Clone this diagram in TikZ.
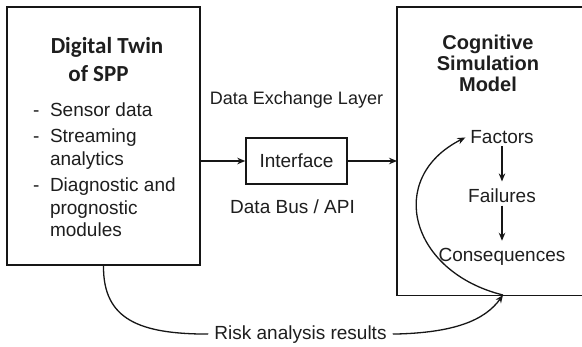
\documentclass[tikz,border=0pt]{standalone}
\usepackage{fontspec}
\setmainfont{Liberation Sans}
\newfontfamily\calfont{Carlito}
\usetikzlibrary{arrows.meta,positioning}
\definecolor{ink}{HTML}{161616}
\definecolor{textgray}{HTML}{1E1E1E}
\tikzset{
  panel/.style={draw=ink, line width=1.7pt, fill=white, inner sep=0pt},
  frame/.style={draw=ink, line width=1.7pt},
  box/.style={draw=ink, line width=1.5pt, fill=white, minimum width=101pt, minimum height=46pt, inner sep=0pt, font=\fontsize{19}{22}\selectfont, text=textgray},
  label/.style={font=\fontsize{19}{22.5}\selectfont, text=textgray, inner sep=0pt},
  smalllabel/.style={font=\fontsize{18}{21}\selectfont, text=textgray, inner sep=0pt},
  heading/.style={font=\fontsize{20}{21}\selectfont\bfseries, text=textgray, align=center, inner sep=0pt},
  twinhead/.style={font=\calfont\bfseries\fontsize{23}{27}\selectfont, text=textgray, inner sep=0pt},
  arrow/.style={-{Stealth[length=8pt,width=6.5pt]}, line width=1.3pt, draw=ink},
  link/.style={line width=1.3pt, draw=ink},
}
\begin{document}
\begin{tikzpicture}[x=1pt, y=-1pt, node distance=39pt]
\useasboundingbox (0,0) rectangle (582,346);
\fill[white] (0,0) rectangle (582,346);
% the two main blocks (the model block runs past the right edge)
\node[panel, minimum width=193pt, minimum height=258pt] (twin) at (103.5,136) {};
\node[inner sep=0pt, minimum width=190pt, minimum height=288pt, anchor=north west] (csm) at (397,7) {};
\draw[frame] (csm.north east) -- (csm.north west) -- (csm.south west) -- (csm.south east);
% digital twin contents
\node[twinhead, anchor=base] (twintop) at (107,53) {Digital Twin};
\node[twinhead, anchor=base] (twinsub) at (98.5,81) {of SPP};
\node[label, anchor=north west] (twinlist) at (33,100.3) {%
  \begin{tabular}{@{}l@{\hspace{10.5pt}}l@{}}
  - & Sensor data\\[4pt]
  - & Streaming\\
    & analytics\\[4pt]
  - & Diagnostic and\\
    & prognostic\\
    & modules
  \end{tabular}};
% data exchange in the middle
\node[box] (iface) at (296.5,161) {Interface};
\node[smalllabel, above=29pt of iface] (layer) {Data Exchange Layer};
\node[label, below=15pt of iface, xshift=-4pt] (bus) {Data Bus / API};
\draw[arrow] (twin.east |- iface.west) -- (iface.west);
\draw[arrow] (iface.east) -- (iface.east -| csm.west);
% cognitive model contents
\node[heading, anchor=north] (csmtitle) at (488,35) {Cognitive\\Simulation\\Model};
\node[label, inner sep=3pt, anchor=base] (factors) at (502,143) {Factors};
\node[label, inner sep=3pt, below=of factors] (failures) {Failures};
\node[label, inner sep=3pt, below=of failures] (consequences) {Consequences};
\draw[arrow, shorten >=4pt] (factors) -- (failures);
\draw[arrow, shorten >=4pt] (failures) -- (consequences);
% feedback of risk results
\node[label, inner sep=6pt, anchor=base] (risk) at (300.5,339) {Risk analysis results};
\coordinate (entry) at (503,295);
\draw[link] (twin.south) .. controls (103,320) and (140,334) .. (risk.west);
\draw[arrow] (risk.east) .. controls (455,333) and (485,320) .. (entry);
\draw[arrow, shorten >=2pt] (entry) .. controls (410,272) and (385,178) .. (factors.west);
\end{tikzpicture}
\end{document}
